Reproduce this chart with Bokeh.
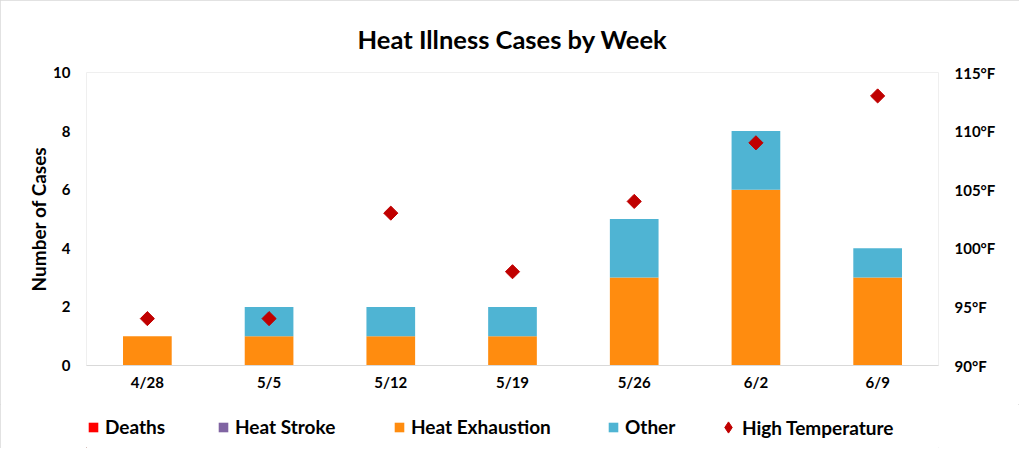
import numpy as np
from bokeh.plotting import figure
from bokeh.layouts import column
from bokeh.models import (Range1d, LinearAxis, Legend, LegendItem, PrintfTickFormatter,
                          FixedTicker, ColumnDataSource, FactorRange)
from bokeh.embed import file_html
from bokeh.resources import INLINE

weeks = ["4/28", "5/5", "5/12", "5/19", "5/26", "6/2", "6/9"]
deaths = [0, 0, 0, 0, 0, 0, 0]
heat_stroke = [0, 0, 0, 0, 0, 0, 0]
heat_exhaustion = [1, 1, 1, 1, 3, 6, 3]
other = [0, 1, 1, 1, 2, 2, 1]
high_temp = [94, 94, 103, 98, 104, 109, 113]

series_names = ["Deaths", "Heat Stroke", "Heat Exhaustion", "Other"]
temp_name = "High Temperature"
case_ticks = [0, 2, 4, 6, 8, 10]
temp_ticks = [90, 95, 100, 105, 110, 115]

FONT = "Lato"
colors = ["#FF0000", "#8064A2", "#FF8C0F", "#4FB4D3"]
temp_color = "#C00000"

source = ColumnDataSource(dict(week=weeks, deaths=deaths, heat_stroke=heat_stroke,
                               heat_exhaustion=heat_exhaustion, other=other, temp=high_temp))

p = figure(x_range=FactorRange(*weeks, range_padding=0), y_range=Range1d(0, 10),
           width=1019, height=404, output_backend="svg", toolbar_location=None,
           min_border_left=86, min_border_right=81, min_border_top=72, min_border_bottom=39,
           background_fill_color="white", border_fill_color="white")
p.extra_y_ranges = {"temp": Range1d(90, 115)}

p.title.text = "Heat Illness Cases by Week"
p.title.align = "center"
p.title.offset = -8
p.title.text_font = FONT
p.title.text_font_size = "25.5px"
p.title.text_font_style = "bold"
p.title.text_color = "black"
p.title.standoff = 37

p.outline_line_color = "#EFEFEF"
p.xgrid.grid_line_color = None
p.ygrid.grid_line_color = None

stackers = ["deaths", "heat_stroke", "heat_exhaustion", "other"]
bars = p.vbar_stack(stackers, x="week", width=0.4, color=colors, line_color=None, source=source)

temp_r = p.scatter(x="week", y="temp", y_range_name="temp", source=source, marker="square",
                   angle=np.pi / 4, size=10, fill_color=temp_color, line_color=temp_color)

# left axis
ya = p.yaxis[0]
ya.ticker = FixedTicker(ticks=case_ticks)
ya.axis_label = "Number of Cases"
ya.axis_label_text_font = FONT
ya.axis_label_text_font_size = "19px"
ya.axis_label_text_font_style = "bold"
ya.axis_label_text_color = "black"
ya.axis_label_standoff = 0
ya.axis_line_color = None
ya.major_tick_line_color = None
ya.minor_tick_line_color = None
ya.major_label_text_font = FONT
ya.major_label_text_font_size = "15px"
ya.major_label_text_font_style = "bold"
ya.major_label_text_color = "black"
ya.major_label_standoff = 10

# right axis
ra = LinearAxis(y_range_name="temp", ticker=FixedTicker(ticks=temp_ticks),
                formatter=PrintfTickFormatter(format="%d°F"))
ra.axis_line_color = None
ra.major_tick_line_color = None
ra.minor_tick_line_color = None
ra.major_label_text_font = FONT
ra.major_label_text_font_size = "15px"
ra.major_label_text_font_style = "bold"
ra.major_label_text_color = "black"
ra.major_label_standoff = 10
p.add_layout(ra, "right")

# x axis
xa = p.xaxis[0]
xa.axis_line_color = "#D9D9D9"
xa.major_tick_line_color = None
xa.minor_tick_line_color = None
xa.major_label_text_font = FONT
xa.major_label_text_font_size = "15px"
xa.major_label_text_font_style = "bold"
xa.major_label_text_color = "black"
xa.major_label_standoff = 1

# legend strip below the chart (its frame is aligned with the main frame)
lg = figure(width=1019, height=44, x_range=Range1d(0, 852), y_range=Range1d(0, 44),
            output_backend="svg", toolbar_location=None, x_axis_type=None, y_axis_type=None,
            min_border=0, outline_line_color=None,
            background_fill_color="white", border_fill_color="white")
lg.grid.visible = False

dummy = []
for c in colors:
    dummy.append(lg.vbar(x=[-100], top=[1], width=1, color=c, line_color=None))
dummy.append(lg.scatter(x=[-100], y=[-100], marker="diamond", size=13,
                        fill_color=temp_color, line_color=temp_color))

legend_x = [1, 131, 307, 521, 628]
legend_y = [10, 10, 10, 10, 7]
glyph_sizes = [12, 12, 12, 12, 28]
standoffs = [6, 6, 6, 6, 0]
labels = series_names + [temp_name]
for r, lab, lx, ly, gs, so in zip(dummy, labels, legend_x, legend_y, glyph_sizes, standoffs):
    leg = Legend(items=[LegendItem(label=lab, renderers=[r])], location=(lx, ly),
                 glyph_width=gs, glyph_height=gs, label_standoff=so, label_height=22,
                 label_text_font=FONT, label_text_font_size="19px",
                 label_text_font_style="bold", label_text_color="black",
                 border_line_color=None, background_fill_alpha=0, padding=0, margin=0)
    lg.add_layout(leg, "center")

layout = column(p, lg, styles={"outline": "1px solid #D9D9D9", "outline-offset": "-1px"})
open("out.html", "w").write(file_html(layout, INLINE))
